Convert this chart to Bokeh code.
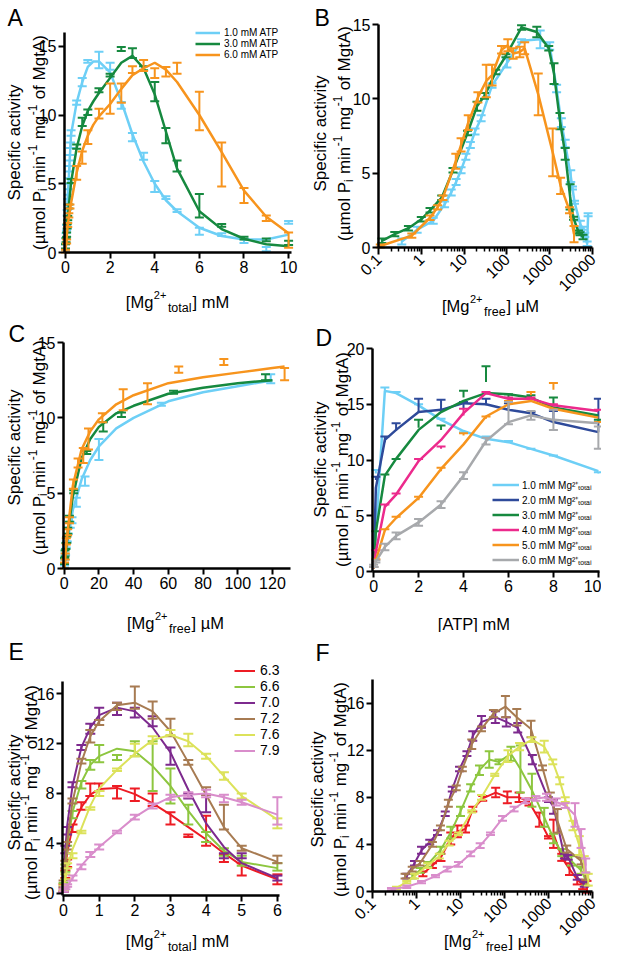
import math
from bokeh.plotting import figure
from bokeh.models import Range1d, FixedTicker, Label, Legend, LegendItem, PrintfTickFormatter
from bokeh.layouts import row, column
from bokeh.embed import file_html
from bokeh.resources import INLINE

FONT = "Liberation Sans"

# ---------------- colours ----------------
C_LB = "#6DCFF6"; C_GR = "#16893F"; C_OR = "#F7941D"
C_DB = "#2E4A9A"; C_PK = "#EC2A8C"; C_GY = "#A7A9AC"
C_RED = "#ED1C24"; C_LG = "#8DC63F"; C_PU = "#7D2A8E"; C_BR = "#A77B52"; C_YE = "#DCE25A"; C_OC = "#D98DCB"

# ---------------- panel A / B data (ATP series) ----------------
atp_labels = ["1.0 mM ATP", "3.0 mM ATP", "6.0 mM ATP"]
A_x_lb = [0, 0.025, 0.05, 0.075, 0.1, 0.125, 0.15, 0.175, 0.2, 0.225, 0.25, 0.5, 0.75, 1.0, 1.5, 2.0, 2.5, 3.0, 3.5, 4.0, 4.5, 5.0, 6.0, 7.0, 8.0, 9.0, 10.0]
A_lb = [0.4, 1.2, 1.8, 2.9, 3.7, 4.4, 5.2, 6.1, 6.9, 7.8, 8.7, 10.9, 12.4, 13.9, 14.0, 13.55, 10.7, 8.4, 7.0, 4.8, 4.0, 3.05, 1.55, 1.3, 0.85, 0.25, 2.2]
A_lb_err = [0.2, 0.2, 0.2, 0.2, 0.2, 0.2, 0.2, 0.2, 0.2, 0.2, 0.2, 0.15, 0.3, 0.1, 0.6, 0.25, 0.25, 0.3, 0.25, 0.4, 0.1, 0.1, 0.25, 0.1, 0.15, 0.15, 0.1]
A_x_gr = [0, 0.025, 0.05, 0.075, 0.1, 0.15, 0.25, 0.5, 0.75, 1.0, 1.5, 2.0, 2.5, 3.0, 3.5, 4.0, 4.5, 5.0, 6.0, 7.0, 8.0, 9.0, 10.0]
A_gr = [0.45, 0.9, 1.3, 1.9, 2.5, 3.35, 5.2, 7.7, 9.5, 10.2, 11.8, 12.9, 14.8, 14.5, 13.4, 11.7, 8.5, 6.3, 3.4, 1.97, 1.05, 0.92, 0.7]
A_gr_err = [0.15, 0.15, 0.15, 0.15, 0.15, 0.15, 0.15, 0.15, 0.3, 0.2, 0.15, 0.1, 0.15, 0.35, 0.15, 0.7, 0.55, 0.4, 0.85, 0.1, 0.1, 0.1, 0.15]
A_x_or = [0, 0.05, 0.1, 0.15, 0.2, 0.5, 0.75, 1.0, 1.5, 2.0, 2.5, 3.0, 3.5, 4.0, 4.5, 5.0, 6.0, 7.0, 8.0, 9.0, 10.0]
A_or = [0.1, 0.8, 2.0, 2.7, 3.35, 5.8, 6.9, 8.4, 10.1, 11.2, 11.6, 13.3, 13.6, 13.05, 13.15, 13.4, 10.3, 6.4, 4.15, 2.5, 0.9]
A_or_err = [0.1, 0.15, 0.15, 0.15, 0.15, 0.5, 0.45, 0.5, 0.35, 1.1, 0.7, 0.25, 0.4, 0.35, 0.35, 0.4, 1.4, 1.6, 0.55, 0.2, 0.55]
A_fit_x = [0, 0.1, 0.25, 0.5, 0.75, 1.0, 1.25, 1.5, 2.0, 2.5, 3.0, 3.5, 4.0, 4.5, 5.0, 6.0, 7.0, 8.0, 9.0, 10.0]
A_fit_lb = [0.3, 4.0, 8.6, 10.9, 12.4, 13.5, 13.9, 13.9, 13.1, 11.0, 8.6, 6.6, 5.0, 3.8, 3.0, 1.8, 1.2, 0.95, 0.95, 1.3]
A_fit_gr = [0.3, 2.5, 5.1, 7.6, 9.2, 10.3, 11.0, 11.6, 12.7, 13.8, 14.3, 13.4, 11.5, 8.8, 6.1, 3.0, 1.7, 1.0, 0.6, 0.45]
A_fit_or = [0.1, 2.0, 3.6, 5.8, 7.4, 8.5, 9.3, 9.9, 10.8, 11.9, 12.9, 13.4, 13.8, 13.3, 12.4, 10.0, 7.3, 4.5, 2.6, 1.4]
# free Mg (µM) for the same points
B_x_lb = [0.35, 0.8, 1.9, 3.5, 5.0, 6.5, 8.5, 11, 14, 18, 25, 45, 100, 220, 600, 1000, 1450, 1870, 2300, 3100, 3400, 3800, 5200, 5900, 6600, 7500, 7900]
B_x_gr = [0.12, 0.24, 0.5, 1.0, 1.6, 3.0, 5.5, 12, 20, 30, 55, 95, 220, 500, 950, 1260, 1740, 2300, 3000, 3600, 4700, 5100, 6000]
B_x_or = [0.11, 0.6, 1.6, 2.4, 3.2, 6.4, 8.5, 12.5, 21, 33, 45, 75, 105, 140, 200, 260, 540, 1175, 1800, 2900, 3700]

# ---------------- panel C data ----------------
C_x_lb = [0.2, 0.5, 0.8, 1.2, 1.8, 2.5, 3.5, 4.5, 7, 12, 20, 56, 119]
C_lb = [0.4, 0.8, 1.1, 1.6, 2.0, 2.5, 2.9, 3.2, 4.4, 5.8, 7.9, 10.9, 12.6]
C_lb_err = [0.2, 0.2, 0.2, 0.2, 0.2, 0.2, 0.2, 0.2, 0.3, 0.3, 0.7, 0.1, 0.3]
C_x_gr = [0.2, 0.5, 1, 1.5, 2, 3, 5.5, 13, 22.5, 33, 63, 116]
C_gr = [0.5, 1.0, 1.5, 1.9, 2.5, 3.3, 5.1, 7.7, 9.4, 10.2, 11.7, 12.7]
C_gr_err = [0.2, 0.2, 0.2, 0.2, 0.2, 0.2, 0.1, 0.1, 0.3, 0.15, 0.1, 0.2]
C_x_or = [0.2, 0.6, 1.2, 2, 3, 5.3, 8, 11, 14, 22, 34, 48, 66, 92, 127]
C_or = [0.2, 0.8, 1.8, 2.4, 3.2, 5.6, 7.0, 7.5, 8.6, 10.0, 11.2, 11.6, 13.2, 13.7, 12.9]
C_or_err = [0.2, 0.2, 0.2, 0.2, 0.2, 0.3, 0.3, 0.5, 0.7, 0.3, 0.7, 0.7, 0.2, 0.2, 0.4]
C_fit_x = [0, 1, 2.5, 5, 10, 15, 20, 30, 40, 60, 80, 100, 120]
C_fit_lb = [0, 0.9, 2.2, 3.9, 5.9, 7.2, 8.1, 9.3, 10.0, 11.1, 11.7, 12.1, 12.5]
C_fit_gr = [0, 1.2, 2.7, 4.8, 7.3, 8.6, 9.4, 10.3, 10.8, 11.6, 12.0, 12.3, 12.5]
C_fit_x_or = [0, 1, 2.5, 5, 10, 15, 20, 30, 40, 60, 80, 100, 120, 127]
C_fit_or = [0, 1.3, 3.0, 5.5, 7.9, 9.1, 9.9, 10.9, 11.5, 12.3, 12.7, 13.0, 13.3, 13.4]

# ---------------- panel D data (ATP titration at fixed total Mg) ----------------
SUB_TOTAL = "\u00b2\u207a\u209c\u2092\u209c\u2090\u2097"
mg_labels = ["1.0 mM Mg" + SUB_TOTAL, "2.0 mM Mg" + SUB_TOTAL, "3.0 mM Mg" + SUB_TOTAL,
             "4.0 mM Mg" + SUB_TOTAL, "5.0 mM Mg" + SUB_TOTAL, "6.0 mM Mg" + SUB_TOTAL]
D_x = [0, 0.1, 0.5, 1, 2, 3, 4, 5, 6, 7, 8, 10]
D_fit_1 = [0.3, 3.5, 16.2, 16.0, 14.9, 13.6, 12.6, 11.9, 11.6, 11.0, 10.4, 9.0]
D_1 = [0.3, 8.8, 16.2, 16.0, 14.8, 13.6, 12.4, 11.9, 11.6, 10.9, 10.3, 8.8]
D_1_err = [0.1, 0.3, 0.3, 0.1, 0.2, 0.1, 0.1, 0.2, 0.1, 0.1, 0.1, 0.1]
D_fit_2 = [0.3, 7.5, 11.8, 12.7, 14.3, 14.5, 15.1, 15.0, 14.5, 14.2, 13.4, 12.5]
D_2 = [0.3, 8.2, 11.6, 12.6, 14.3, 14.4, 14.6, 14.9, 14.6, 14.2, 13.6, 12.5]
D_2_err = [0.1, 0.3, 0.5, 0.7, 1.2, 1.0, 0.6, 0.6, 0.5, 0.1, 0.8, 3.0]
D_fit_3 = [0.3, 3.6, 8.6, 10.1, 12.7, 14.3, 15.3, 16.0, 15.9, 15.6, 14.7, 14.0]
D_3 = [0.3, 3.5, 8.6, 10.0, 12.9, 12.7, 15.6, 17.0, 15.6, 15.5, 15.0, 13.5]
D_3_err = [0.1, 0.1, 0.1, 0.1, 0.7, 0.4, 0.6, 1.4, 0.3, 0.3, 0.6, 0.1]
D_fit_4 = [0.3, 1.8, 5.8, 6.9, 9.9, 11.8, 14.2, 16.0, 15.5, 15.5, 14.9, 14.4]
D_4 = [0.3, 1.8, 5.8, 6.8, 9.9, 11.0, 14.0, 16.0, 15.4, 15.4, 14.8, 14.4]
D_4_err = [0.1, 0.1, 0.2, 0.2, 0.2, 0.2, 0.6, 0.1, 0.2, 0.2, 0.2, 0.1]
D_fit_5 = [0.3, 1.0, 3.7, 4.8, 6.6, 9.2, 11.4, 13.9, 15.0, 15.3, 14.6, 13.8]
D_5 = [0.3, 1.0, 3.6, 4.7, 6.4, 9.0, 12.2, 13.7, 15.0, 15.8, 16.3, 13.3]
D_5_err = [0.1, 0.1, 0.2, 0.2, 0.3, 0.3, 0.2, 0.2, 0.3, 0.3, 0.6, 0.1]
D_fit_6 = [0.5, 0.9, 2.2, 3.2, 4.4, 6.0, 8.6, 11.7, 13.4, 14.0, 13.6, 13.3]
D_6 = [0.5, 0.9, 2.2, 3.2, 4.4, 6.0, 8.6, 11.7, 14.2, 14.0, 13.6, 12.0]
D_6_err = [0.1, 0.1, 0.3, 0.3, 0.3, 0.3, 0.3, 0.3, 1.0, 0.4, 0.9, 1.0]

# ---------------- panel E data (pH series vs total Mg) ----------------
ph_labels = ["6.3", "6.6", "7.0", "7.2", "7.6", "7.9"]
E_x = [0, 0.05, 0.1, 0.25, 0.5, 0.75, 1, 1.5, 2, 2.5, 3, 3.5, 4, 4.5, 5, 6]
E_63 = [0.4, 1.5, 2.4, 5.2, 7.0, 8.3, 8.5, 8.1, 7.9, 7.5, 6.0, 4.6, 5.0, 2.8, 1.9, 1.1]
E_63_err = [0.3, 0.3, 0.3, 0.3, 0.3, 0.5, 0.3, 0.5, 0.5, 0.5, 0.5, 0.1, 1.2, 0.3, 0.5, 0.4]
E_63_fit = [0.3, 1.8, 3.2, 5.3, 6.9, 7.9, 8.35, 8.45, 7.95, 7.2, 6.3, 5.3, 4.3, 3.2, 2.2, 1.1]
E_66 = [0.5, 2.0, 3.5, 6.3, 8.7, 10.3, 11.2, 10.9, 11.6, 10.2, 8.6, 6.3, 4.5, 3.3, 2.6, 2.1]
E_66_err = [0.3, 0.3, 0.3, 0.3, 0.3, 0.4, 0.7, 0.2, 0.6, 2.0, 1.4, 0.8, 0.4, 0.3, 0.4, 0.3]
E_66_fit = [0.3, 2.2, 3.8, 6.5, 8.9, 10.3, 11.0, 11.6, 11.4, 10.2, 8.6, 6.6, 4.8, 3.4, 2.5, 2.0]
E_70 = [0.3, 3.5, 5.0, 8.7, 11.7, 13.2, 14.4, 14.8, 14.5, 13.8, 11.0, 7.8, 7.2, 3.0, 3.0, 1.2]
E_70_err = [0.2, 0.3, 0.3, 0.2, 0.2, 0.4, 0.5, 0.5, 0.4, 0.4, 0.7, 0.2, 0.7, 0.2, 0.2, 0.2]
E_70_fit = [0.3, 3.5, 5.4, 8.6, 11.7, 13.3, 14.3, 14.9, 14.6, 13.3, 11.3, 8.3, 5.6, 3.7, 2.4, 1.2]
E_72 = [0.7, 2.3, 3.8, 7.4, 10.6, 12.6, 13.7, 15.0, 15.7, 14.7, 13.3, 10.5, 8.2, 6.1, 3.6, 2.7]
E_72_err = [0.3, 0.3, 0.3, 0.2, 0.2, 0.5, 0.2, 0.3, 0.9, 0.7, 0.7, 0.2, 0.3, 1.0, 0.2, 0.3]
E_72_fit = [0.3, 2.5, 4.2, 7.3, 10.5, 12.6, 13.8, 15.1, 15.3, 14.6, 13.0, 10.5, 7.9, 5.3, 3.6, 2.5]
E_76 = [0.4, 1.3, 2.2, 3.0, 4.9, 6.8, 8.0, 9.9, 11.5, 12.3, 12.9, 12.3, 11.0, 9.4, 7.8, 5.6]
E_76_err = [0.2, 0.2, 0.2, 0.2, 0.1, 0.1, 0.2, 0.1, 0.5, 0.3, 0.2, 0.5, 0.2, 0.3, 0.2, 0.4]
E_76_fit = [0.3, 1.2, 2.0, 3.5, 5.2, 7.0, 8.4, 9.9, 11.2, 12.3, 12.7, 12.2, 11.0, 9.4, 7.8, 5.9]
E_79 = [0.2, 0.4, 0.6, 1.2, 2.1, 3.1, 3.7, 4.9, 6.1, 7.0, 7.7, 7.9, 8.0, 7.6, 7.3, 6.6]
E_79_err = [0.1, 0.1, 0.1, 0.2, 0.2, 0.2, 0.2, 0.1, 0.2, 0.2, 0.2, 0.2, 0.3, 0.3, 0.2, 1.1]
E_79_fit = [0.1, 0.3, 0.5, 1.2, 2.2, 3.0, 3.7, 4.9, 6.1, 7.0, 7.7, 7.9, 8.0, 7.7, 7.3, 6.3]

# ---------------- panel F data (pH series vs free Mg) ----------------
F_x_63 = [1.4, 2.3, 3.6, 6, 8.5, 13, 19, 32, 63, 116, 215, 360, 620, 1000, 1300, 2000, 3000, 4500, 6000, 7500]
F_63 = [1.5, 2.2, 2.9, 4.5, 5.1, 5.3, 7.0, 7.9, 8.4, 8.0, 8.0, 7.6, 6.1, 4.6, 4.9, 2.9, 1.9, 1.0, 0.6, 0.4]
F_63_err = [0.2, 0.2, 0.3, 0.5, 0.5, 0.3, 0.2, 0.2, 0.4, 0.5, 0.4, 0.3, 0.6, 0.1, 1.2, 0.3, 0.5, 0.4, 0.4, 0.5]
F_x_66 = [0.8, 1.2, 1.8, 3.5, 6, 10, 17, 27, 45, 75, 140, 230, 420, 800, 1300, 2000, 3300, 5500, 7000]
F_66 = [1.3, 1.8, 2.3, 3.5, 5.0, 6.8, 8.8, 10.3, 11.2, 11.0, 11.7, 10.4, 8.6, 6.3, 4.5, 3.3, 2.6, 1.8, 1.0]
F_66_err = [0.2, 0.2, 0.2, 0.3, 0.5, 0.4, 0.3, 0.4, 0.7, 0.2, 0.6, 2.0, 1.4, 0.8, 0.4, 0.3, 0.4, 0.3, 0.5]
F_x_70 = [0.6, 0.9, 1.3, 2.0, 3.0, 4.5, 6.5, 9.5, 14, 19, 30, 62, 110, 200, 430, 1000, 1300, 2300, 2800, 4500, 6500]
F_70 = [1.3, 2.4, 3.5, 4.2, 5.0, 6.6, 8.7, 10.4, 11.7, 13.2, 14.4, 14.8, 14.4, 13.9, 11.2, 7.8, 7.2, 3.0, 2.9, 1.2, 0.6]
F_70_err = [0.2, 0.2, 0.3, 0.2, 0.2, 0.2, 0.2, 0.2, 0.2, 0.4, 0.5, 0.5, 0.4, 0.4, 0.4, 0.2, 0.6, 0.2, 0.2, 0.2, 0.2]
F_x_72 = [0.55, 0.8, 1.2, 2.3, 3.5, 5.3, 8, 11, 18, 30, 56, 105, 190, 400, 730, 1100, 1600, 2600, 5500, 7000]
F_72 = [1.3, 1.9, 2.4, 4.0, 5.4, 7.5, 8.8, 10.4, 12.5, 13.8, 15.1, 15.7, 14.8, 13.8, 10.5, 8.1, 6.0, 3.6, 2.6, 1.3]
F_72_err = [0.2, 0.2, 0.2, 0.2, 0.2, 0.3, 0.2, 0.2, 0.4, 0.2, 0.3, 0.9, 0.7, 0.7, 0.2, 0.3, 1.0, 0.3, 0.3, 0.3]
F_x_76 = [0.35, 0.6, 0.9, 1.8, 3.3, 5.5, 9, 18, 30, 60, 120, 220, 420, 800, 1250, 1800, 2400, 3600, 5000, 6500, 8000]
F_76 = [0.3, 0.8, 1.3, 2.2, 3.0, 4.1, 4.9, 6.8, 8.0, 9.9, 11.5, 12.3, 12.9, 12.3, 11.0, 9.4, 7.8, 5.6, 3.9, 2.3, 1.0]
F_76_err = [0.1, 0.1, 0.2, 0.2, 0.2, 0.2, 0.1, 0.1, 0.2, 0.1, 0.5, 0.3, 0.2, 0.5, 0.2, 0.3, 0.2, 0.4, 0.8, 0.7, 0.5]
F_x_79 = [0.27, 0.6, 1.3, 2.7, 5, 9, 17, 28, 48, 90, 165, 300, 520, 900, 1500, 2400, 4000, 5500, 7000]
F_79 = [0.2, 0.4, 0.8, 1.3, 1.9, 2.3, 3.2, 3.9, 4.9, 6.2, 7.0, 7.7, 7.9, 8.0, 7.6, 7.3, 6.5, 4.5, 2.2]
F_79_err = [0.1, 0.1, 0.1, 0.1, 0.2, 0.2, 0.2, 0.2, 0.1, 0.2, 0.2, 0.2, 0.2, 0.3, 0.3, 0.2, 1.0, 0.8, 0.6]

# ---------------- helpers ----------------
W = {' ': 278, '\u00a0': 278, '[': 278, ']': 278, '(': 333, ')': 333, '-': 333, '.': 278, 'M': 833, 'g': 556,
     'm': 833, '\u00b5': 576, '2': 556, '+': 584, 't': 278, 'o': 556, 'a': 556, 'l': 222, 'f': 278, 'r': 333,
     'e': 556, 'A': 667, 'T': 611, 'P': 667, 'i': 222, 'n': 556, '1': 556, 'c': 500, 'p': 556, 'y': 500,
     'v': 500, 's': 500, 'S': 667, 'G': 778}


def tw(s, size):
    return sum(W.get(ch, 556) for ch in s) * size / 1000.0


def nb(s):
    # keep leading / trailing spaces visible in SVG text
    return s.replace(" ", "\u00a0")


def make_fig(page, frame, xr, yr, xlog=False):
    """page: canvas box on the page; frame: where the plot area (axes) sits on the page."""
    px0, py0, px1, py1 = page
    l, t, r, b = frame
    xs, xe = xr
    ys, ye = yr
    if xlog:
        a0, a1 = math.log10(xs), math.log10(xe)
        k = (r - l) / (a1 - a0)
        cx0, cx1 = 10 ** (a0 - (l - px0) / k), 10 ** (a1 + (px1 - r) / k)
    else:
        k = (r - l) / (xe - xs)
        cx0, cx1 = xs - (l - px0) / k, xe + (px1 - r) / k
    ky = (b - t) / (ye - ys)
    cy0, cy1 = ys - (py1 - b) / ky, ye + (t - py0) / ky
    p = figure(width=px1 - px0, height=py1 - py0,
               x_range=Range1d(cx0, cx1), y_range=Range1d(cy0, cy1),
               x_axis_type="log" if xlog else "linear",
               output_backend="svg", toolbar_location=None, min_border=0)
    p.outline_line_color = None
    p.grid.visible = False
    p.background_fill_color = "white"
    p.border_fill_color = "white"
    p.xaxis.fixed_location = ys
    p.xaxis.bounds = (xs, xe)
    p.yaxis.fixed_location = xs
    p.yaxis.bounds = (ys, ye)
    for ax in (p.xaxis[0], p.yaxis[0]):
        ax.axis_line_width = 2.5
        ax.axis_line_color = "black"
        ax.major_tick_line_width = 2
        ax.major_tick_line_color = "black"
        ax.major_tick_out = 6
        ax.major_tick_in = 0
        ax.minor_tick_line_color = None
        ax.major_label_text_font = FONT
        ax.major_label_text_font_size = "16px"
        ax.major_label_text_color = "black"
        ax.major_label_standoff = 2
    p._frame = frame
    p._page = page
    p._anchor = (xs, ys)
    return p


def log_axis(p):
    ax = p.xaxis[0]
    ax.ticker = FixedTicker(ticks=[0.1, 1, 10, 100, 1000, 10000],
                            minor_ticks=[m * 10.0 ** d for d in range(-1, 4) for m in range(2, 10)])
    ax.formatter = PrintfTickFormatter(format="%g")
    ax.minor_tick_line_color = "black"
    ax.minor_tick_line_width = 1.5
    ax.minor_tick_out = 4
    ax.minor_tick_in = 0
    ax.major_tick_out = 7
    ax.major_label_orientation = math.pi / 4


def put(p, px, py, text, size, angle=0.0, align="left", baseline="alphabetic"):
    l, t, r, b = p._frame
    ax, ay = p._anchor
    p.add_layout(Label(x=ax, y=ay, x_offset=px - l, y_offset=b - py,
                       text=nb(text), text_font=FONT, text_font_size="%.1fpx" % size, text_color="black",
                       text_align=align, text_baseline=baseline, angle=angle))


def rich_h(p, cx, base_y, parts):
    total = sum(tw(t, s) + adj for t, s, dy, adj in parts)
    x = cx - total / 2
    for t, s, dy, adj in parts:
        put(p, x, base_y - dy, t, s)
        x += tw(t, s) + adj


def rich_v(p, base_x, cy, parts):
    total = sum(tw(t, s) + adj for t, s, dy, adj in parts)
    y = cy + total / 2
    for t, s, dy, adj in parts:
        put(p, base_x - dy, y, t, s, angle=math.pi / 2)
        y -= tw(t, s) + adj


def ylabel(p, x1, x2, cy):
    rich_v(p, x1, cy, [("Specific activity", 17, 0, 0)])
    rich_v(p, x2, cy, [("(\u00b5mol P", 17, 0, 0), ("i", 12, -4, 0.5), (" min", 17, 0, 0.5), ("-1", 12, 7, 0.5),
                       (" mg", 17, 0, 0.5), ("-1", 12, 7, 0.5), (" of MgtA)", 17, 0, 0)])


def mg_label(p, cx, base_y, sub, unit):
    rich_h(p, cx, base_y, [("[Mg", 16.5, 0, 0.5), ("2+", 11, 7, 1.5), (sub, 12.5, -6, 1.0), ("] " + unit, 16.5, 0, 0)])


def series(p, x, y, e, color, lw=2.5, cap=9, fx=None, fy=None, mode="both", elw=2):
    lx, ly = (fx, fy) if fx is not None else (x, y)
    r = p.line(lx, ly, line_color=color, line_width=lw)
    hi = [a + b for a, b in zip(y, e)]
    lo = list(y) if mode == "up" else [a - b for a, b in zip(y, e)]
    p.segment(x0=x, y0=lo, x1=x, y1=hi, line_color=color, line_width=elw)
    p.scatter(x=x, y=hi, marker="dash", size=cap, line_color=color, line_width=elw)
    if mode == "both":
        p.scatter(x=x, y=lo, marker="dash", size=cap, line_color=color, line_width=elw)
    return r


def legend(p, items, left, bottom, font, gw, gh, standoff):
    px0, py0, px1, py1 = p._page
    lg = Legend(items=[LegendItem(label=lab, renderers=[rr]) for lab, rr in items],
                location=(left - px0, py1 - bottom), background_fill_alpha=0, border_line_alpha=0,
                padding=0, margin=0, spacing=0, glyph_width=gw, glyph_height=gh, label_height=gh,
                label_standoff=standoff, label_text_font=FONT, label_text_font_size=font,
                label_text_color="black")
    p.add_layout(lg)


# ---------------- panel A ----------------
pA = make_fig((8, 8, 308, 321), (72, 40, 299, 260), (-0.045, 10.13), (0, 16))
pA.xaxis.ticker = FixedTicker(ticks=[0, 2, 4, 6, 8, 10])
pA.yaxis.ticker = FixedTicker(ticks=[0, 5, 10, 15])
rA1 = series(pA, A_x_lb, A_lb, A_lb_err, C_LB, fx=A_fit_x, fy=A_fit_lb)
rA3 = series(pA, A_x_gr, A_gr, A_gr_err, C_GR, fx=A_fit_x, fy=A_fit_gr)
rA6 = series(pA, A_x_or, A_or, A_or_err, C_OR, fx=A_fit_x, fy=A_fit_or)
legend(pA, list(zip(atp_labels, [rA1, rA3, rA6])), 203, 68, "10px", 25, 11, 4)
put(pA, 15, 25, "A", 23)
ylabel(pA, 21.5, 46.5, 150)
mg_label(pA, 185, 309, "total", "mM")

# ---------------- panel B ----------------
pB = make_fig((308, 8, 609, 326), (386, 32, 600, 255), (0.1, 10000), (0, 15), xlog=True)
log_axis(pB)
pB.yaxis.ticker = FixedTicker(ticks=[0, 5, 10, 15])
series(pB, B_x_lb, A_lb, A_lb_err, C_LB)
series(pB, B_x_gr, A_gr, A_gr_err, C_GR)
series(pB, B_x_or, A_or, A_or_err, C_OR)
put(pB, 322, 25, "B", 23)
ylabel(pB, 328, 352, 141)
mg_label(pB, 498, 313, "free", "\u00b5M")

# ---------------- panel C ----------------
pC = make_fig((8, 321, 308, 642), (71, 350, 298, 576), (-0.4, 130.4), (0, 15))
pC.xaxis.ticker = FixedTicker(ticks=[0, 20, 40, 60, 80, 100, 120])
pC.yaxis.ticker = FixedTicker(ticks=[0, 5, 10, 15])
series(pC, C_x_lb, C_lb, C_lb_err, C_LB, fx=C_fit_x, fy=C_fit_lb)
series(pC, C_x_gr, C_gr, C_gr_err, C_GR, fx=C_fit_x, fy=C_fit_gr)
series(pC, C_x_or, C_or, C_or_err, C_OR, fx=C_fit_x_or, fy=C_fit_or)
put(pC, 16, 341, "C", 23)
ylabel(pC, 21.5, 46.5, 455)
mg_label(pC, 183, 630, "free", "\u00b5M")

# ---------------- panel D ----------------
pD = make_fig((308, 326, 609, 640), (380, 356, 607, 579), (-0.05, 10.05), (0, 20))
pD.xaxis.ticker = FixedTicker(ticks=[0, 2, 4, 6, 8, 10])
pD.yaxis.ticker = FixedTicker(ticks=[0, 5, 10, 15, 20])
rD = []
for fy, yy, ee, col in [(D_fit_1, D_1, D_1_err, C_LB), (D_fit_2, D_2, D_2_err, C_DB), (D_fit_3, D_3, D_3_err, C_GR),
                        (D_fit_4, D_4, D_4_err, C_PK), (D_fit_5, D_5, D_5_err, C_OR), (D_fit_6, D_6, D_6_err, C_GY)]:
    rD.append(series(pD, D_x, yy, ee, col, fx=D_x, fy=fy, mode="both" if col == C_GY else "up"))
legend(pD, list(zip(mg_labels, rD)), 500, 575, "10px", 27, 15, 3)
put(pD, 323, 345, "D", 23)
ylabel(pD, 328, 350, 467)
rich_h(pD, 482, 631, [("[ATP] mM", 16.5, 0, 0)])

# ---------------- panel E ----------------
pE = make_fig((8, 642, 308, 960), (70, 689, 287, 903), (-0.03, 6.06), (-0.2, 17))
pE.xaxis.ticker = FixedTicker(ticks=[0, 1, 2, 3, 4, 5, 6])
pE.yaxis.ticker = FixedTicker(ticks=[0, 4, 8, 12, 16])
rE = []
for yy, ee, fy, col in [(E_63, E_63_err, E_63_fit, C_RED), (E_66, E_66_err, E_66_fit, C_LG),
                        (E_70, E_70_err, E_70_fit, C_PU), (E_72, E_72_err, E_72_fit, C_BR),
                        (E_76, E_76_err, E_76_fit, C_YE), (E_79, E_79_err, E_79_fit, C_OC)]:
    rE.append(series(pE, E_x, yy, ee, col, lw=2, cap=10, fx=E_x, fy=fy))
legend(pE, list(zip(ph_labels, rE)), 242, 766, "14px", 21, 15, 5)
put(pE, 16, 659, "E", 23)
ylabel(pE, 22, 39, 800)
mg_label(pE, 185, 948, "total", "mM")

# ---------------- panel F ----------------
pF = make_fig((308, 640, 609, 960), (380, 687, 600, 899), (0.1, 10000), (0, 18), xlog=True)
log_axis(pF)
pF.yaxis.ticker = FixedTicker(ticks=[0, 4, 8, 12, 16])
for xx, yy, ee, col in [(F_x_63, F_63, F_63_err, C_RED), (F_x_66, F_66, F_66_err, C_LG),
                        (F_x_70, F_70, F_70_err, C_PU), (F_x_72, F_72, F_72_err, C_BR),
                        (F_x_76, F_76, F_76_err, C_YE), (F_x_79, F_79, F_79_err, C_OC)]:
    series(pF, xx, yy, ee, col, lw=2, cap=9)
put(pF, 323, 660, "F", 23)
ylabel(pF, 325, 348, 797)
mg_label(pF, 500, 948, "free", "\u00b5M")

layout = row(column(pA, pC, pE), column(pB, pD, pF))
open("out.html", "w").write(file_html(layout, INLINE))
